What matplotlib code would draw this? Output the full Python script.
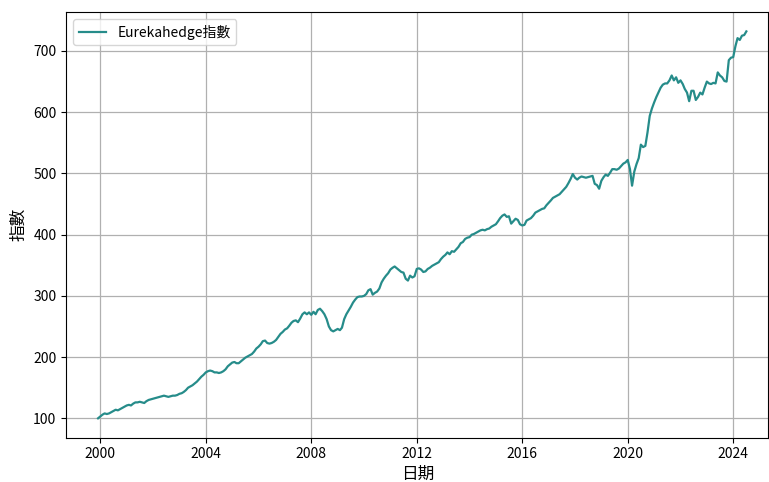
import matplotlib
matplotlib.use("Agg")
import numpy as np
import pandas as pd
import matplotlib.pyplot as plt

plt.rcParams['font.family'] = ['Noto Sans CJK TC', 'DejaVu Sans']

start = "1999-12-01"
# monthly index values, Dec 1999 .. Jul 2024
v1999 = [100]
v2000 = [103, 106, 108, 107, 108, 110, 112, 114, 113, 115, 117, 119]
v2001 = [121, 122, 121, 124, 126, 126, 127, 126, 125, 128, 130, 131]
v2002 = [132, 133, 134, 135, 136, 137, 136, 135, 136, 137, 137, 138]
v2003 = [140, 141, 143, 146, 150, 152, 154, 157, 160, 164, 168, 171]
v2004 = [175, 177, 178, 177, 175, 175, 174, 175, 177, 180, 185, 188]
v2005 = [191, 192, 190, 190, 193, 196, 199, 201, 203, 205, 209, 214]
v2006 = [217, 221, 226, 227, 223, 222, 223, 225, 228, 233, 238, 241]
v2007 = [245, 247, 251, 256, 259, 260, 257, 263, 270, 273, 270, 273]
v2008 = [269, 274, 270, 277, 279, 275, 270, 262, 250, 244, 242, 244]
v2009 = [246, 244, 248, 262, 270, 276, 282, 289, 294, 298, 299, 299]
v2010 = [300, 303, 309, 311, 302, 305, 307, 312, 322, 328, 333, 337]
v2011 = [343, 346, 348, 345, 342, 339, 338, 328, 325, 333, 330, 332]
v2012 = [344, 345, 343, 339, 340, 344, 346, 349, 351, 353, 355, 360]
v2013 = [364, 367, 371, 368, 373, 372, 376, 380, 386, 388, 393, 395]
v2014 = [396, 400, 401, 403, 405, 407, 408, 407, 409, 410, 413, 415]
v2015 = [417, 422, 427, 431, 433, 429, 430, 418, 422, 426, 424, 417]
v2016 = [415, 416, 423, 425, 427, 431, 436, 438, 440, 442, 443, 448]
v2017 = [452, 456, 460, 462, 464, 466, 470, 474, 478, 484, 491, 499]
v2018 = [493, 490, 493, 495, 494, 493, 494, 495, 496, 483, 481, 475]
v2019 = [488, 494, 498, 496, 501, 507, 507, 506, 508, 512, 516, 518]
v2020 = [522, 507, 480, 503, 515, 525, 547, 543, 545, 567, 594, 606]
v2021 = [616, 625, 632, 640, 645, 647, 647, 652, 660, 652, 657, 648]
v2022 = [652, 646, 638, 632, 618, 635, 635, 620, 625, 632, 629, 640]
v2023 = [650, 647, 646, 648, 647, 665, 660, 657, 651, 650, 685, 689]
v2024 = [690, 708, 721, 718, 725, 726, 732]

values = (v1999 + v2000 + v2001 + v2002 + v2003 + v2004 + v2005 + v2006 + v2007
          + v2008 + v2009 + v2010 + v2011 + v2012 + v2013 + v2014 + v2015
          + v2016 + v2017 + v2018 + v2019 + v2020 + v2021 + v2022 + v2023 + v2024)
dates = pd.date_range(start, periods=len(values), freq="MS")

fig = plt.figure(figsize=(7.69, 4.82), dpi=100)
ax = fig.add_subplot(111)
fig.subplots_adjust(left=0.086, right=0.999, top=0.975, bottom=0.092)

ax.plot(dates, values, color="#268c8a", linewidth=1.6, label="Eurekahedge指數")
ax.set_xlim(pd.Timestamp("1998-09-15"), pd.Timestamp("2025-04-30"))
ax.set_xlabel("日期", fontsize=12, labelpad=3)
ax.set_ylabel("指數", fontsize=12)
ax.tick_params(labelsize=10)
ax.grid(True, color="#b0b0b0", linewidth=0.9)
ax.set_yticks(np.arange(100, 701, 100))
ax.legend(loc="upper left", fontsize=10)

plt.savefig("out.png", dpi=100)
